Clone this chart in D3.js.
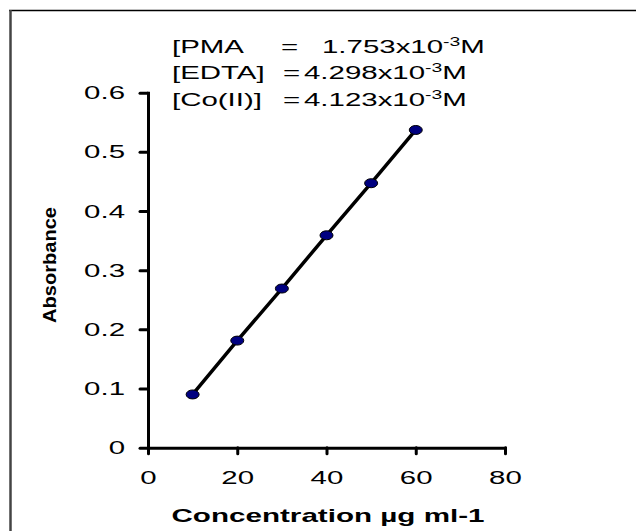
<!DOCTYPE html>
<html>
<head>
<meta charset="utf-8">
<script src="https://cdn.jsdelivr.net/npm/d3@7"></script>
<style>
  body { margin: 0; background: #fff; }
  text { font-family: "Liberation Sans", Arial, sans-serif; }
</style>
</head>
<body>
<svg width="636" height="531"></svg>
<script>
// calibration data
var concentration = [10, 20, 30, 40, 50, 60];
var absorbance = [0.090, 0.181, 0.269, 0.359, 0.447, 0.537];
var xTicks = [0, 20, 40, 60, 80];
var yTicks = [0, 0.1, 0.2, 0.3, 0.4, 0.5, 0.6];
var reagents = ["[PMA", "[EDTA]", "[Co(II)]"];
var molarity = ["1.753", "4.298", "4.123"];

var svg = d3.select("svg");
var stretch = 1.55;   // the source figure is stretched sideways

// outer frame (only top and left edges are visible)
svg.append("line").attr("x1", 9).attr("y1", 10.5).attr("x2", 636).attr("y2", 10.5)
    .attr("stroke", "#000").attr("stroke-width", 1.5);
svg.append("line").attr("x1", 10.5).attr("y1", 10).attr("x2", 10.5).attr("y2", 531)
    .attr("stroke", "#444").attr("stroke-width", 2.5);

var x = d3.scaleLinear().domain([0, 80]).range([148, 505]);
var y = d3.scaleLinear().domain([0, 0.6]).range([447.7, 92.7]);

var xAxis = svg.append("g")
    .attr("transform", "translate(0," + y(0) + ")")
    .call(d3.axisBottom(x).tickValues(xTicks).tickSize(6).tickPadding(17).tickSizeOuter(0));

var yAxis = svg.append("g")
    .attr("transform", "translate(" + x(0) + ",0)")
    .call(d3.axisLeft(y).tickValues(yTicks).tickSize(8).tickPadding(15).tickSizeOuter(0)
        .tickFormat(function (d) { return d === 0 ? "0" : d3.format(".1f")(d); }));

[xAxis, yAxis].forEach(function (g) {
    g.select(".domain").attr("stroke", "#000").attr("stroke-width", 3).attr("stroke-linecap", "square");
    g.selectAll(".tick line").attr("stroke", "#000").attr("stroke-width", 3).attr("stroke-linecap", "round");
    g.selectAll(".tick text").attr("fill", "#000")
        .attr("transform", "scale(" + stretch + ",1)")
        .style("font-family", "'Liberation Sans', Arial, sans-serif").style("font-size", "19px");
});
yAxis.selectAll(".tick text").attr("x", -23 / stretch);

// data line
var pts = concentration.map(function (c, i) { return [c, absorbance[i]]; });
var line = d3.line()
    .x(function (d) { return x(d[0]); })
    .y(function (d) { return y(d[1]); });

svg.append("path")
    .datum(pts)
    .attr("d", line)
    .attr("fill", "none")
    .attr("stroke", "#000")
    .attr("stroke-width", 3.5);

svg.selectAll("ellipse.pt")
    .data(pts)
    .enter().append("ellipse")
    .attr("class", "pt")
    .attr("cx", function (d) { return x(d[0]); })
    .attr("cy", function (d) { return y(d[1]); })
    .attr("rx", 6.5)
    .attr("ry", 4.5)
    .attr("fill", "#000080")
    .attr("stroke", "#000")
    .attr("stroke-width", 1);

// axis titles
svg.append("text")
    .attr("x", 171.5)
    .attr("y", 522)
    .attr("textLength", 313)
    .attr("lengthAdjust", "spacingAndGlyphs")
    .style("font-size", "19px")
    .style("font-weight", "bold")
    .text("Concentration \u00b5g ml-1");

svg.append("text")
    .attr("transform", "translate(56,265) rotate(-90)")
    .attr("text-anchor", "middle")
    .attr("textLength", 116)
    .attr("lengthAdjust", "spacingAndGlyphs")
    .style("font-size", "19px")
    .style("font-weight", "bold")
    .text("Absorbance");

// concentration annotation
var note = svg.append("g")
    .attr("transform", "scale(" + stretch + ",1)")
    .style("font-size", "19px");
var labelX = 172;
var eqX = [281, 283, 283];
var valX = [322, 304, 304];
reagents.forEach(function (r, i) {
    var by = 53 + i * 26.5;
    note.append("text").attr("x", labelX / stretch).attr("y", by).text(r);
    note.append("text").attr("x", eqX[i] / stretch).attr("y", by).text("=");
    var t = note.append("text").attr("x", valX[i] / stretch).attr("y", by);
    t.append("tspan").text(molarity[i] + "x10");
    t.append("tspan").attr("dy", -7).style("font-size", "12.5px").text("-3");
    t.append("tspan").attr("dy", 7).text("M");
});
</script>
</body>
</html>
